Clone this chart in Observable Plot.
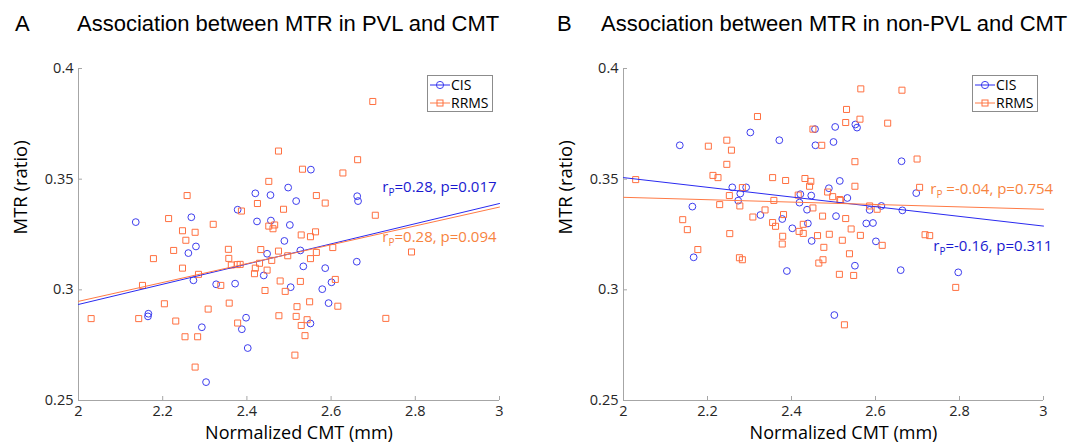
<!DOCTYPE html>
<html><head><meta charset="utf-8">
<script src="https://cdn.jsdelivr.net/npm/d3@7"></script>
<script src="https://cdn.jsdelivr.net/npm/@observablehq/plot@0.6"></script>
<style>
body{margin:0;background:#fff;}
#wrap{position:relative;width:1073px;height:444px;overflow:hidden;background:#fff;}
.panel{position:absolute;top:0;}
.ttl{position:absolute;font-family:"Liberation Sans",Arial,sans-serif;font-size:22px;line-height:22px;color:#000;white-space:nowrap;}
.legend{position:absolute;width:64px;height:35px;border:1px solid #8c8c8c;background:#fff;font-family:"Open Sans",sans-serif;font-size:14px;color:#000;}
.legend span{position:absolute;left:23px;line-height:16px;}
</style></head><body>
<div id="wrap"></div>
<script>
// ---------- data ----------
const panelTitles = ["Association between MTR in PVL and CMT", "Association between MTR in non-PVL and CMT"];
const panelLetters = ["A", "B"];
const seriesNames = ["CIS", "RRMS"];
const xLabel = "Normalized CMT (mm)";
const yLabel = "MTR (ratio)";
const xTicks = [2, 2.2, 2.4, 2.6, 2.8, 3];
const xTickLabels = ["2", "2.2", "2.4", "2.6", "2.8", "3"];
const yTicks = [0.25, 0.3, 0.35, 0.4];
const yTickLabels = ["0.25", "0.3", "0.35", "0.4"];

// Panel A: PVL
const cisPvlX = [2.420,2.456,2.498,2.378,2.268,2.136,2.424,2.457,2.502,2.489,2.552,2.517,2.662,2.664,2.279,2.261,2.273,2.327,2.372,2.166,2.165,2.293,2.398,2.388,2.402,2.303,2.448,2.440,2.504,2.527,2.534,2.586,2.661,2.601,2.579,2.594,2.551];
const cisPvlY = [0.3436,0.3428,0.3462,0.3362,0.3328,0.3306,0.3309,0.3313,0.3293,0.3221,0.3543,0.3401,0.3423,0.3401,0.3196,0.3166,0.3043,0.3025,0.3028,0.2892,0.2880,0.2831,0.2874,0.2822,0.2737,0.2583,0.3163,0.3065,0.3012,0.3178,0.3106,0.3098,0.3127,0.3034,0.3003,0.2940,0.2848];
const rrmsPvlX = [2.475,2.452,2.258,2.425,2.387,2.487,2.214,2.320,2.452,2.466,
  2.462,2.247,2.277,2.255,2.699,2.663,2.532,2.628,2.565,2.586,
  2.705,2.529,2.551,2.563,2.226,2.178,2.247,2.285,2.152,2.030,
  2.143,2.204,2.231,2.253,2.283,2.308,2.338,2.358,2.378,2.277,
  2.356,2.357,2.363,2.377,2.384,2.433,2.430,2.420,2.418,2.448,
  2.459,2.475,2.497,2.443,2.479,2.491,2.476,2.791,2.604,2.565,
  2.551,2.527,2.610,2.549,2.616,2.519,2.517,2.543,2.529,2.538,
  2.514,2.730];
const rrmsPvlY = [0.3627,0.3490,0.3426,0.3390,0.3356,0.3364,0.3322,0.3296,0.3288,0.3293,
  0.3276,0.3267,0.3260,0.3224,0.3851,0.3588,0.3545,0.3528,0.3426,0.3392,
  0.3337,0.3248,0.3240,0.3262,0.3178,0.3141,0.3098,0.3070,0.3020,0.2870,
  0.2870,0.2937,0.2859,0.2788,0.2788,0.2913,0.3020,0.2940,0.2850,0.2651,
  0.3183,0.3142,0.3112,0.3114,0.3115,0.3182,0.3120,0.3098,0.3073,0.3089,
  0.3133,0.3175,0.3154,0.2997,0.3040,0.2993,0.2883,0.3171,0.3191,0.3169,
  0.3141,0.3038,0.3047,0.2946,0.2926,0.2924,0.2880,0.2865,0.2839,0.2793,
  0.2705,0.2871];

// Panel B: non-PVL
const cisNonX = [2.302,2.371,2.456,2.457,2.504,2.500,2.134,2.515,2.259,2.292,
  2.278,2.273,2.164,2.326,2.378,2.421,2.447,2.419,2.437,2.489,
  2.506,2.439,2.402,2.448,2.552,2.556,2.662,2.533,2.697,2.586,
  2.614,2.664,2.578,2.594,2.601,2.167,2.389,2.502,2.551,2.660,
  2.797];
const cisNonY = [0.3711,0.3676,0.3726,0.3653,0.3736,0.3668,0.3653,0.3492,0.3463,0.3463,
  0.3435,0.3403,0.3376,0.3338,0.3320,0.3432,0.3426,0.3394,0.3362,0.3459,
  0.3333,0.3300,0.3278,0.3221,0.3747,0.3733,0.3581,0.3415,0.3437,0.3361,
  0.3379,0.3359,0.3300,0.3302,0.3219,0.3147,0.3085,0.2886,0.3109,0.3089,
  0.3079];
const rrmsNonX = [2.319,2.202,2.246,2.257,2.246,2.029,2.213,2.225,2.355,2.386,
  2.432,2.446,2.443,2.283,2.252,2.229,2.277,2.358,2.416,2.451,
  2.451,2.472,2.486,2.498,2.515,2.337,2.308,2.381,2.355,2.362,
  2.428,2.418,2.474,2.141,2.152,2.253,2.379,2.428,2.462,2.490,
  2.565,2.663,2.531,2.563,2.529,2.629,2.551,2.699,2.551,2.705,
  2.517,2.586,2.604,2.529,2.542,2.564,2.718,2.729,2.521,2.177,
  2.276,2.283,2.378,2.477,2.475,2.465,2.514,2.538,2.548,2.616,
  2.791,2.526];
const rrmsNonY = [0.3783,0.3649,0.3676,0.3631,0.3567,0.3498,0.3517,0.3507,0.3507,0.3494,
  0.3503,0.3490,0.3468,0.3462,0.3426,0.3385,0.3379,0.3404,0.3428,0.3370,
  0.3726,0.3653,0.3442,0.3421,0.3408,0.3361,0.3329,0.3340,0.3304,0.3287,
  0.3296,0.3264,0.3333,0.3317,0.3272,0.3254,0.3242,0.3255,0.3245,0.3251,
  0.3908,0.3902,0.3815,0.3771,0.3756,0.3753,0.3579,0.3591,0.3468,0.3463,
  0.3404,0.3379,0.3364,0.3322,0.3275,0.3246,0.3249,0.3245,0.3224,0.3182,
  0.3145,0.3136,0.3207,0.3192,0.3136,0.3121,0.3070,0.3163,0.3065,0.3201,
  0.3011,0.2842];

// fitted regression lines (values at x = 2 and x = 3)
const fitX = [2, 3];
const cisPvlFit = [0.2934, 0.3390];
const rrmsPvlFit = [0.2948, 0.3374];
const cisNonFit = [0.3507, 0.3288];
const rrmsNonFit = [0.3418, 0.3364];

// statistics annotations
const statsPvl = ["r_P=0.28, p=0.017", "r_P=0.28, p=0.094"];
const statsNon = ["r_P=-0.16, p=0.311", "r_P =-0.04, p=0.754"];

// ---------- styles ----------
const CIS_C = "#3d3dee", RRMS_C = "#ff7040";
const CIS_LINE = "#2a2af0", RRMS_LINE = "#ff7a45";
const CIS_TXT = "#1a1ad0", RRMS_TXT = "#f7843f";
const AXIS_C = "#a6a6a6", TICK_TXT = "#262626";

const pts = (xs, ys) => xs.map((x, i) => ({x, y: ys[i]}));
const fit = (ys) => fitX.map((x, i) => ({x, y: ys[i]}));

function subscriptify(svg) {
  const ns = "http://www.w3.org/2000/svg";
  svg.querySelectorAll("text").forEach(t => {
    const s = t.textContent;
    if (!s.startsWith("r_P")) return;
    t.textContent = "";
    const a = document.createElementNS(ns, "tspan"); a.textContent = "r";
    const b = document.createElementNS(ns, "tspan"); b.textContent = "P";
    b.setAttribute("font-size", "10"); b.setAttribute("dy", "4");
    const c = document.createElementNS(ns, "tspan"); c.textContent = s.slice(3);
    c.setAttribute("dy", "-4");
    t.append(a, b, c);
  });
}

function panel(o) {
  const svg = Plot.plot({
    width: o.width, height: 444,
    marginLeft: o.marginLeft, marginRight: o.marginRight, marginTop: 68, marginBottom: 44,
    style: {fontFamily: '"Open Sans", sans-serif', fontSize: "14.5px", color: TICK_TXT, background: "transparent", overflow: "visible"},
    x: {domain: [2, 3]},
    y: {domain: [0.25, 0.4]},
    marks: [
      Plot.axisX({ticks: xTicks, tickFormat: d => xTickLabels[xTicks.indexOf(d)], tickSize: -4, tickPadding: 9, stroke: AXIS_C, fill: TICK_TXT, label: null}),
      Plot.axisY({ticks: yTicks, tickFormat: d => yTickLabels[yTicks.indexOf(d)], tickSize: -4, tickPadding: 9, stroke: AXIS_C, fill: TICK_TXT, label: null}),
      Plot.ruleX([2], {stroke: AXIS_C}),
      Plot.ruleY([0.25], {stroke: AXIS_C}),
      Plot.dot(pts(o.cisX, o.cisY), {x: "x", y: "y", symbol: "circle", r: 3.4, stroke: CIS_C, fill: "none", strokeWidth: 1}),
      Plot.dot(pts(o.rrmsX, o.rrmsY), {x: "x", y: "y", symbol: "square", r: 3.4, stroke: RRMS_C, fill: "none", strokeWidth: 1}),
      Plot.line(fit(o.cisFit), {x: "x", y: "y", stroke: CIS_LINE, strokeWidth: 1}),
      Plot.line(fit(o.rrmsFit), {x: "x", y: "y", stroke: RRMS_LINE, strokeWidth: 1}),
      Plot.text([o.stats[0]], {x: o.s0[0], y: o.s0[1], text: d => d, textAnchor: "end", fill: CIS_TXT, fontSize: 15}),
      Plot.text([o.stats[1]], {x: o.s1[0], y: o.s1[1], text: d => d, textAnchor: "end", fill: RRMS_TXT, fontSize: 15}),
      Plot.text([xLabel], {frameAnchor: "bottom", dy: 38, dx: 10, text: d => d, fontSize: 18, fill: "#000"}),
      Plot.text([yLabel], {frameAnchor: "left", dx: -57, rotate: -90, text: d => d, fontSize: 18.5, fill: "#000"})
    ]
  });
  subscriptify(svg);
  svg.classList.add("panel");
  svg.style.left = o.left + "px";
  return svg;
}

function legend(left, top) {
  const d = document.createElement("div");
  d.className = "legend";
  d.style.left = left + "px"; d.style.top = top + "px";
  d.innerHTML =
    `<svg width="24" height="36" style="position:absolute;left:0;top:0">
       <line x1="2" x2="22" y1="9" y2="9" stroke="${CIS_LINE}"/>
       <circle cx="12" cy="9" r="3.6" fill="none" stroke="${CIS_C}"/>
       <line x1="2" x2="22" y1="27" y2="27" stroke="${RRMS_LINE}"/>
       <rect x="9" y="24" width="6" height="6" fill="none" stroke="${RRMS_C}"/>
     </svg>
     <span style="top:1px">${seriesNames[0]}</span>
     <span style="top:19px">${seriesNames[1]}</span>`;
  return d;
}

const wrap = document.getElementById("wrap");
wrap.append(panel({
  left: 0, width: 540, marginLeft: 78, marginRight: 41,
  cisX: cisPvlX, cisY: cisPvlY, rrmsX: rrmsPvlX, rrmsY: rrmsPvlY,
  cisFit: cisPvlFit, rrmsFit: rrmsPvlFit, stats: statsPvl,
  s0: [2.993, 0.3465], s1: [2.993, 0.3236]
}));
wrap.append(panel({
  left: 540, width: 533, marginLeft: 83, marginRight: 30,
  cisX: cisNonX, cisY: cisNonY, rrmsX: rrmsNonX, rrmsY: rrmsNonY,
  cisFit: cisNonFit, rrmsFit: rrmsNonFit, stats: statsNon,
  s0: [3.021, 0.3198], s1: [3.023, 0.3453]
}));
wrap.append(legend(427, 75));
wrap.append(legend(972, 75));

function title(text, left) {
  const t = document.createElement("div");
  t.className = "ttl"; t.textContent = text;
  t.style.left = left + "px"; t.style.top = "13px";
  wrap.append(t);
}
title(panelLetters[0], 15);
title(panelTitles[0], 77);
title(panelLetters[1], 557);
title(panelTitles[1], 601);
</script>
</body></html>
